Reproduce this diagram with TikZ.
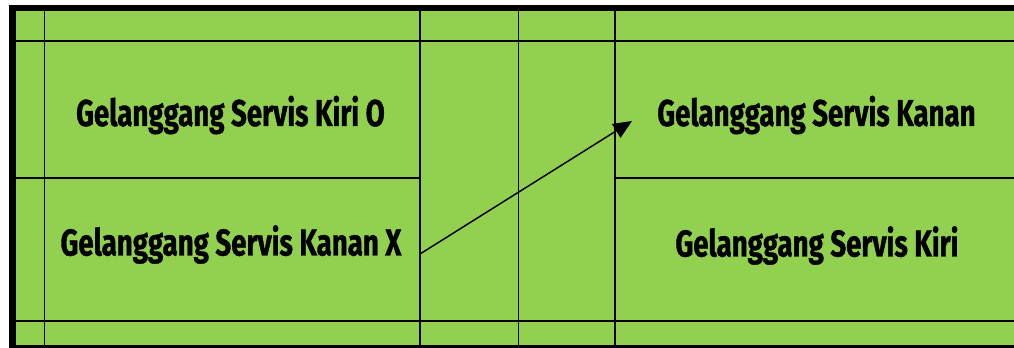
\documentclass[tikz,border=0pt]{standalone}
\usepackage{fontspec}
\newfontfamily\courtfont[FakeStretch=0.74,FakeBold=1]{Fira Sans}
\usetikzlibrary{arrows.meta}
\definecolor{courtgreen}{HTML}{92D050}

\begin{document}
\begin{tikzpicture}[x=0.75pt,y=-0.75pt,
    courtline/.style={line width=1.4pt},
    border/.style={line width=5pt},
    label/.style={anchor=base,inner sep=0pt,font=\courtfont\bfseries\fontsize{28}{32}\selectfont}]
\useasboundingbox (0,0) rectangle (1014,348);
\fill[courtgreen] (16,11) rectangle (1014,346);
% court lines
\draw[courtline] (16,41) -- (1014,41);
\draw[courtline] (16,321) -- (1014,321);
\draw[courtline] (16,178) -- (420,178);
\draw[courtline] (615,178) -- (1014,178);
\foreach \x in {44.5,420,518.5,615}
    \draw[courtline] (\x,11) -- (\x,346);
\draw[line width=1.6pt] (9,346.5) -- (1014,346.5);
\draw[border] (9,8) -- (1014,8);
\draw[border] (12.5,5) -- (12.5,348);
% service courts
\node[label] (kiriO) at (230.5,126) {Gelanggang Servis Kiri O};
\node[label] (kananX) at (231,255.5) {Gelanggang Servis Kanan X};
\node[label] (kanan) at (816.5,126) {Gelanggang Servis Kanan};
\node[label] (kiri) at (817,256.5) {Gelanggang Servis Kiri};
\coordinate (serve) at (420,254);
\coordinate (land) at (632,121);
\draw[line width=1.1pt,-{Triangle[length=14pt,width=12pt]}] (serve) -- (land);
\end{tikzpicture}
\end{document}
